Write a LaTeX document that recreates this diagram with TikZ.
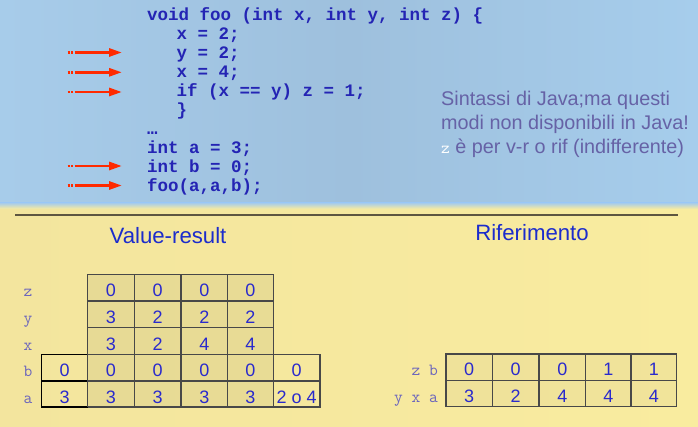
\documentclass[tikz,border=0pt]{standalone}
\usepackage{fontspec}
\setmainfont{Liberation Sans}
\newfontfamily\codefont{Liberation Mono}
\usetikzlibrary{arrows.meta}
\definecolor{bgblueA}{HTML}{A7CCEA}
\definecolor{bgblueB}{HTML}{9EC0DD}
\definecolor{bgblueC}{HTML}{A6CDEC}
\definecolor{bgyelA}{HTML}{F3E59E}
\definecolor{bgyelB}{HTML}{F9EC9F}
\definecolor{codeblue}{HTML}{2424B4}
\definecolor{notecol}{HTML}{6662A6}
\definecolor{labcol}{HTML}{6C66BC}
\definecolor{digit}{HTML}{2A2ACC}
\definecolor{titlecol}{HTML}{1C2CCC}
\definecolor{gridcol}{HTML}{484848}
\definecolor{sepcol}{HTML}{5E5640}
\definecolor{arrred}{HTML}{FF2A00}
\tikzset{
  codeline/.style={font=\codefont\bfseries\fontsize{17.5}{19}\selectfont, text=codeblue, inner sep=0pt, anchor=base west},
  noteline/.style={font=\fontsize{19.8}{22}\selectfont, text=notecol, inner sep=0pt, anchor=base west},
  varlab/.style={font=\ttfamily\fontsize{17}{19}\selectfont, text=labcol, inner sep=0pt, anchor=base},
  cellnum/.style={font=\fontsize{18}{20}\selectfont, text=digit, inner sep=0pt, anchor=base},
  titletext/.style={font=\fontsize{22.2}{25}\selectfont, text=titlecol, inner sep=0pt, anchor=base},
  gridline/.style={draw=gridcol, line width=1.1pt},
  arrtail/.style={draw=arrred, line width=2.6pt, dash pattern=on 2pt off 1.5pt},
  arrmain/.style={draw=arrred, line width=2.8pt, -{Triangle[length=13pt,width=8pt]}},
}
\begin{document}
\begin{tikzpicture}[x=1pt,y=-1pt]
\useasboundingbox (0,0) rectangle (698,427);
% backgrounds
\shade[left color=bgyelA, right color=bgyelB] (0,200) rectangle (698,427);
\shade[left color=bgblueA, right color=bgblueC, middle color=bgblueB] (0,0) rectangle (698,204);
\shade[top color=bgblueA, bottom color=bgyelB] (0,203) rectangle (698,209);
% separator
\coordinate (sepL) at (15,214.7);
\coordinate (sepR) at (678,214.7);
\draw[sepcol, line width=2pt] (sepL) -- (sepR);

% code
\node[codeline] (c0) at (147,20.5) {void foo (int x, int y, int z) \{};
\node[codeline] (c1) at (176.5,39.5) {x = 2;};
\node[codeline] (c2) at (176.5,58.5) {y = 2;};
\node[codeline] (c3) at (176.5,77.5) {x = 4;};
\node[codeline] (c4) at (176.5,96.5) {if (x == y) z = 1;};
\node[codeline] (c5) at (176.5,115.5) {\}};
\node[codeline] (c6) at (147,134.5) {…};
\node[codeline] (c7) at (147,153.5) {int a = 3;};
\node[codeline] (c8) at (147,172.5) {int b = 0;};
\node[codeline] (c9) at (147,191.5) {foo(a,a,b);};

% arrows
\foreach \i/\yy in {1/52.5,2/72.3,3/92,4/166,5/185.5}{
  \coordinate (t\i) at (67.5,\yy);
  \coordinate (m\i) at (77,\yy);
  \coordinate (h\i) at (122,\yy);
  \draw[arrtail] (t\i) -- (m\i);
  \draw[arrmain] (m\i) -- (h\i);
}

% note
\node[noteline] (n1) at (441,105.5) {Sintassi di Java;ma questi};
\node[noteline] (n2) at (441,130) {modi non disponibili in Java!};
\node[noteline] (n3) at (441,154) {{\ttfamily\fontsize{17}{19}\selectfont\color{white}z} è per v-r o rif (indifferente)};

% titles
\node[titletext] (tv) at (168,243.3) {Value-result};
\node[titletext] (tr) at (532,240.5) {Riferimento};

% subtle shading of the left table
\fill[black, opacity=0.05] (87.7,274.3) rectangle (273.3,407);
\fill[black, opacity=0.03] (446,354) rectangle (676.7,406.7);

% left table grid
\draw[gridline] (87.7,274.3) rectangle (273.3,354.3);
\foreach \xx in {134.3,181,227.7} \draw[gridline] (\xx,274.3) -- (\xx,407);
\foreach \yy in {301,327.7} \draw[gridline] (87.7,\yy) -- (273.3,\yy);
\draw[gridline] (41.7,354.3) rectangle (320,407);
\draw[gridline] (41.7,381) -- (320,381);
\draw[gridline] (273.3,354.3) -- (273.3,407);
\draw[draw=black, line width=1.3pt] (41.7,354.3) rectangle (87.7,407) (41.7,381) -- (87.7,381);
\draw[gridline] (87.7,274.3) -- (87.7,407);

% left labels
\node[varlab] (lz) at (28,296.8) {z};
\node[varlab] (ly) at (28,323.5) {y};
\node[varlab] (lx) at (28,350.2) {x};
\node[varlab] (lb) at (28,376.8) {b};
\node[varlab] (la) at (28,403.5) {a};

% left values
\node[cellnum] (vz1) at (111,296.8) {0};
\node[cellnum] (vz2) at (157.7,296.8) {0};
\node[cellnum] (vz3) at (204.3,296.8) {0};
\node[cellnum] (vz4) at (250.5,296.8) {0};
\node[cellnum] (vy1) at (111,323.5) {3};
\node[cellnum] (vy2) at (157.7,323.5) {2};
\node[cellnum] (vy3) at (204.3,323.5) {2};
\node[cellnum] (vy4) at (250.5,323.5) {2};
\node[cellnum] (vx1) at (111,350.2) {3};
\node[cellnum] (vx2) at (157.7,350.2) {2};
\node[cellnum] (vx3) at (204.3,350.2) {4};
\node[cellnum] (vx4) at (250.5,350.2) {4};
\node[cellnum] (vb0) at (64.7,376.8) {0};
\node[cellnum] (vb1) at (111,376.8) {0};
\node[cellnum] (vb2) at (157.7,376.8) {0};
\node[cellnum] (vb3) at (204.3,376.8) {0};
\node[cellnum] (vb4) at (250.5,376.8) {0};
\node[cellnum] (vb5) at (296.7,376.8) {0};
\node[cellnum] (va0) at (64.7,403.5) {3};
\node[cellnum] (va1) at (111,403.5) {3};
\node[cellnum] (va2) at (157.7,403.5) {3};
\node[cellnum] (va3) at (204.3,403.5) {3};
\node[cellnum] (va4) at (250.5,403.5) {3};
\node[cellnum] (va5) at (296.7,403.5) {2 o 4};

% right table grid
\draw[gridline] (446,354) rectangle (676.7,406.7);
\draw[gridline] (446,380.7) -- (676.7,380.7);
\foreach \xx in {492.3,539,585.7,631} \draw[gridline] (\xx,354) -- (\xx,406.7);

% right labels
\node[varlab, anchor=base east] (rl1) at (438,375.5) {z b};
\node[varlab, anchor=base east] (rl2) at (438,402) {y x a};

% right values
\node[cellnum] (r11) at (469.2,375.5) {0};
\node[cellnum] (r12) at (515.7,375.5) {0};
\node[cellnum] (r13) at (562.3,375.5) {0};
\node[cellnum] (r14) at (608.3,375.5) {1};
\node[cellnum] (r15) at (653.8,375.5) {1};
\node[cellnum] (r21) at (469.2,402) {3};
\node[cellnum] (r22) at (515.7,402) {2};
\node[cellnum] (r23) at (562.3,402) {4};
\node[cellnum] (r24) at (608.3,402) {4};
\node[cellnum] (r25) at (653.8,402) {4};
\end{tikzpicture}
\end{document}
